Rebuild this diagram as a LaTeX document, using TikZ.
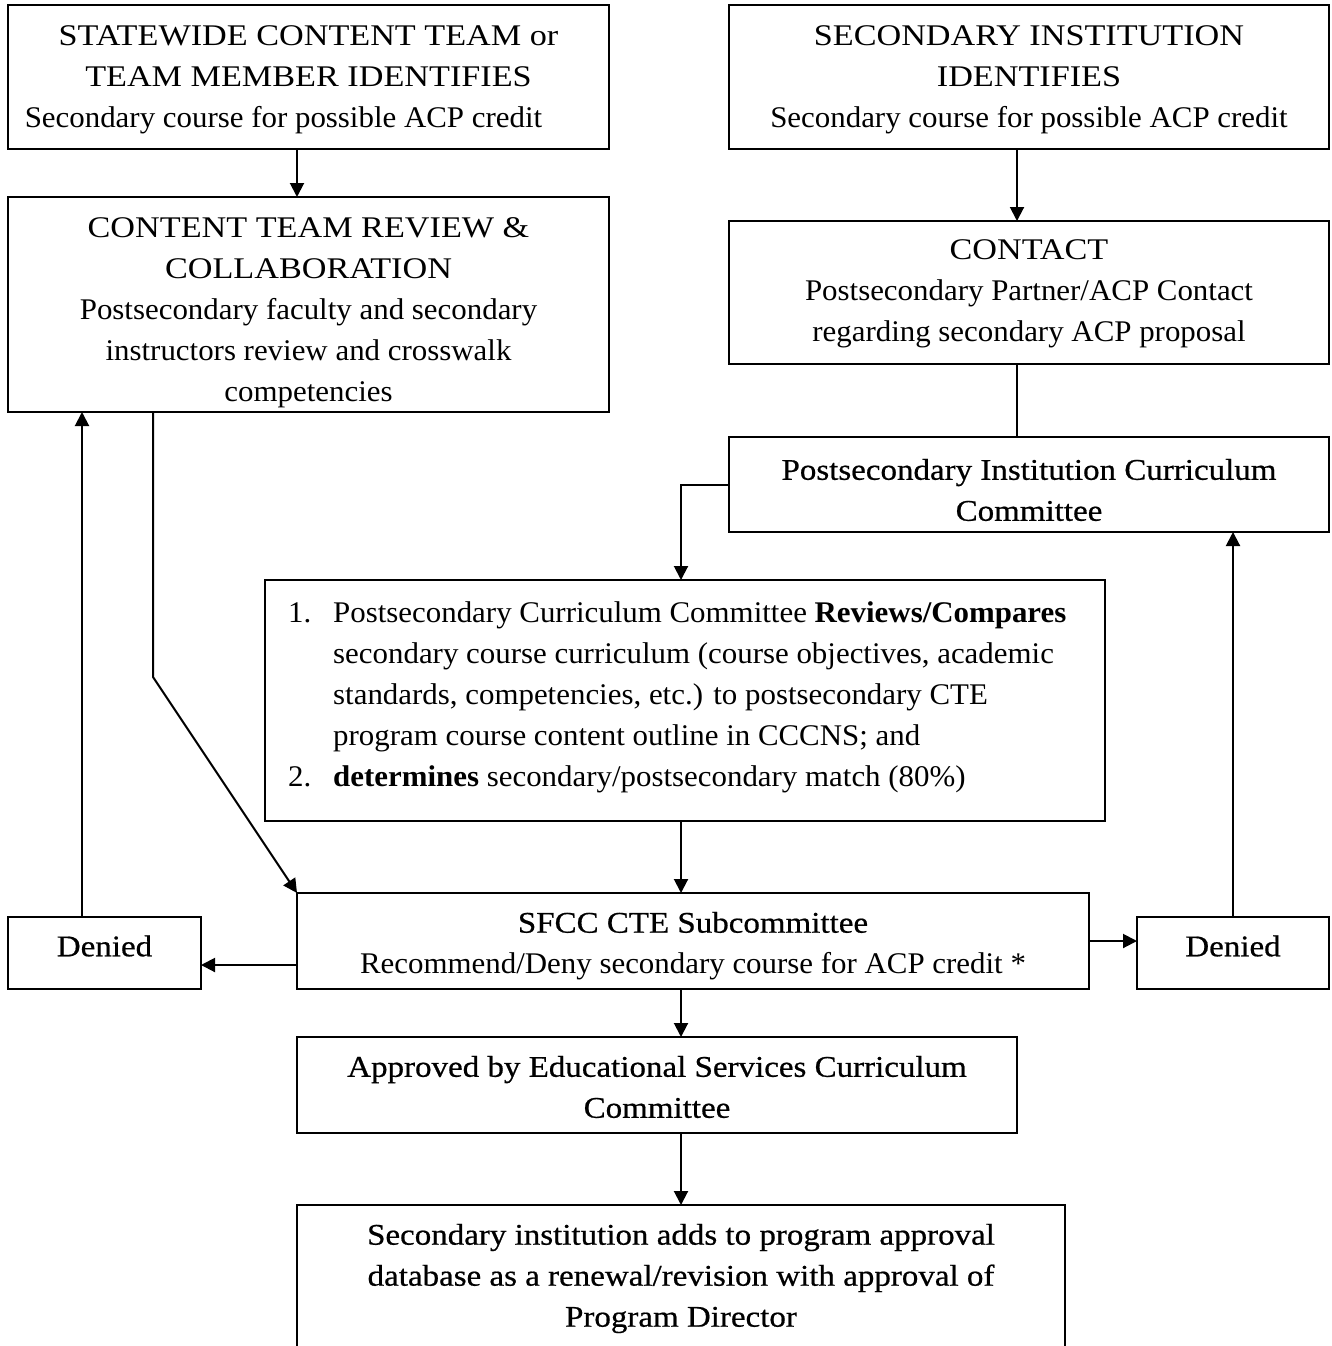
\documentclass[tikz,border=0pt]{standalone}
\usepackage{fontspec}
\setmainfont{Liberation Serif}[FakeStretch=1.03]
\newfontfamily\semib{Liberation Serif}[FakeBold=0.6,FakeStretch=1.1]
\newfontfamily\capsf{Liberation Serif}[FakeStretch=1.14]
\usetikzlibrary{arrows.meta}
\begin{document}
\begin{tikzpicture}[x=1pt,y=-1pt,
  every node/.style={font=\fontsize{30}{41}\selectfont},
  box/.style={draw,line width=2pt,rectangle,inner sep=0pt,outer sep=0pt,align=center},
  txt/.style={inner sep=0pt,align=center},
  sb/.style={font=\semib\fontsize{30}{41}\selectfont},
  arr/.style={line width=2pt,-{Triangle[length=14pt,width=14pt]}},
  ln/.style={line width=2pt}]
\useasboundingbox (0,0) rectangle (1331,1346);
% boxes
\node[box,minimum width=601,minimum height=144] (A) at (308.5,77) {};
\node[box,minimum width=600,minimum height=144] (B) at (1029,77) {};
\node[box,minimum width=601,minimum height=215] (C) at (308.5,304.5) {};
\node[box,minimum width=600,minimum height=143] (D) at (1029,292.5) {};
\node[box,minimum width=600,minimum height=95] (E) at (1029,484.5) {};
\node[box,minimum width=840,minimum height=241] (F) at (685,700.5) {};
\node[box,minimum width=792,minimum height=96] (G) at (693,941) {};
\node[box,minimum width=193,minimum height=72] (DL) at (104.5,953) {};
\node[box,minimum width=192,minimum height=72] (DR) at (1233,953) {};
\node[box,minimum width=720,minimum height=96] (H) at (657,1085) {};
\node[box,minimum width=768,minimum height=143] (I) at (681,1276.5) {};
% texts
\node[txt] (At) at (308.5,79.5) {{\capsf STATEWIDE CONTENT TEAM or}\\{\capsf TEAM MEMBER IDENTIFIES}\\Secondary course for possible ACP credit\rule{50pt}{0pt}};
\node[txt] (Bt) at (1029,79.5) {{\capsf SECONDARY INSTITUTION}\\{\capsf IDENTIFIES}\\Secondary course for possible ACP credit};
\node[txt] (Ct) at (308.5,312.5) {{\capsf CONTENT TEAM REVIEW \&}\\{\capsf COLLABORATION}\\Postsecondary faculty and secondary\\instructors review and crosswalk\\competencies};
\node[txt] (Dt) at (1029,294) {{\capsf CONTACT}\\Postsecondary Partner/ACP Contact\\regarding secondary ACP proposal};
\node[txt,sb] (Et) at (1029,490) {Postsecondary Institution Curriculum\\Committee};
\node[txt,align=left,anchor=north west] (Ft) at (288,601) {\makebox[45pt][l]{1.}Postsecondary Curriculum Committee \textbf{Reviews/Compares}\\
\hspace*{45pt}secondary course curriculum (course objectives, academic\\
\hspace*{45pt}standards, competencies, etc.) to postsecondary CTE\\
\hspace*{45pt}program course content outline in CCCNS; and\\
\makebox[45pt][l]{2.}\textbf{determines} secondary/postsecondary match (80\%)};
\node[txt] (Gt) at (693,946) {{\semib SFCC CTE Subcommittee}\\Recommend/Deny secondary course for ACP credit *};
\node[txt,sb] (DLt) at (104.5,946) {Denied};
\node[txt,sb] (DRt) at (1233,946) {Denied};
\node[txt,sb] (Ht) at (657,1087) {Approved by Educational Services Curriculum\\Committee};
\node[txt,sb] (It) at (681,1278.5) {Secondary institution adds to program approval\\database as a renewal/revision with approval of\\Program Director};
% connectors
\draw[arr] ([xshift=-11.5pt]A.south) -- ([xshift=-11.5pt]A.south |- C.north);
\draw[arr] ([xshift=-12pt]B.south) -- ([xshift=-12pt]B.south |- D.north);
\draw[ln] ([xshift=-12pt]D.south) -- ([xshift=-12pt]D.south |- E.north);
\draw[arr] (E.west) -| ([xshift=-4pt]F.north);
\draw[arr] ([xshift=-4pt]F.south) -- ([xshift=-4pt]F.south |- G.north);
\draw[arr] ([xshift=-155.5pt]C.south) -- ++(0,265) -- (G.north west);
\draw[arr] ([yshift=-24pt]G.west) -- ([yshift=-24pt]G.west -| DL.east);
\draw[arr] ([xshift=-22.5pt]DL.north) -- ([xshift=-22.5pt]DL.north |- C.south);
\draw[arr] (G.east) -- (G.east -| DR.west);
\draw[arr] (DR.north) -- (DR.north |- E.south);
\draw[arr] ([xshift=-12pt]G.south) -- ([xshift=-12pt]G.south |- H.north);
\draw[arr] (I.north |- H.south) -- (I.north);
\end{tikzpicture}
\end{document}
